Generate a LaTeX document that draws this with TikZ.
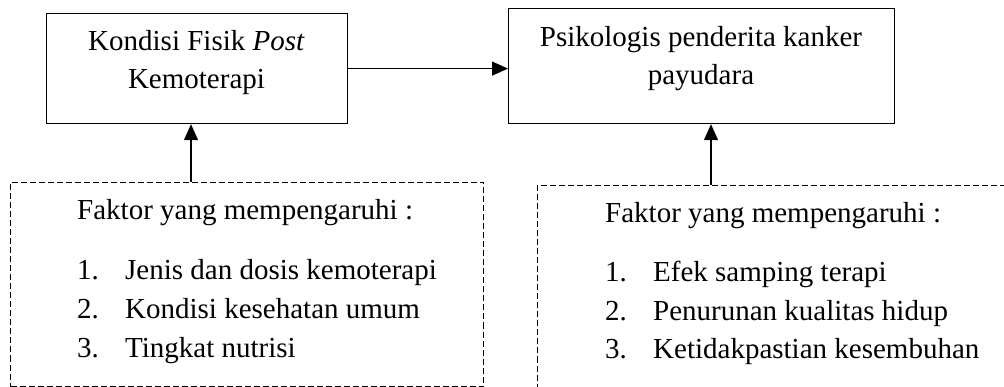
\documentclass[tikz,border=0pt]{standalone}
\usepackage{fontspec}
\setmainfont{Liberation Serif}
\usetikzlibrary{arrows.meta}
\begin{document}
\begin{tikzpicture}[x=1pt,y=-1pt,
  solidbox/.style={draw=black, line width=1.2pt, inner sep=0pt, anchor=north west},
  dashbox/.style={draw=black, line width=1pt, dash pattern=on 6pt off 3pt, inner sep=0pt, anchor=north west},
  arr/.style={line width=1.2pt, -{Triangle[length=16pt,width=14pt]}},
  txt/.style={inner sep=0pt, font=\fontsize{29}{38}\selectfont},
  lft/.style={txt, anchor=base west},
  ctr/.style={txt, anchor=base}]
\useasboundingbox (0,0) rectangle (1004,387);
\clip (0,0) rectangle (1004,387);
% main boxes
\node[solidbox, minimum width=301pt, minimum height=110pt] (b1) at (46,13) {};
\node[solidbox, minimum width=386pt, minimum height=115pt] (b2) at (508,8) {};
\node[ctr] (t11) at (196.5,51) {Kondisi Fisik \textit{Post}};
\node[ctr] (t12) at (196.5,89) {Kemoterapi};
\node[ctr] (t21) at (701,47) {Psikologis penderita kanker};
\node[ctr] (t22) at (701,85) {payudara};
% dashed factor boxes
\node[dashbox, minimum width=473pt, minimum height=204pt] (f1) at (10,182) {};
\node[dashbox, minimum width=500pt, minimum height=260pt] (f2) at (537,185) {};
% texts in left factor box
\node[lft] (h1) at (77,220) {Faktor yang mempengaruhi :};
\node[lft] (n11) at (77,280) {1.};
\node[lft] (i11) at (125,280) {Jenis dan dosis kemoterapi};
\node[lft] (n12) at (77,318.5) {2.};
\node[lft] (i12) at (125,318.5) {Kondisi kesehatan umum};
\node[lft] (n13) at (77,357) {3.};
\node[lft] (i13) at (125,357) {Tingkat nutrisi};
% texts in right factor box
\node[lft] (h2) at (605,223) {Faktor yang mempengaruhi :};
\node[lft] (n21) at (605,282) {1.};
\node[lft] (i21) at (653,282) {Efek samping terapi};
\node[lft] (n22) at (605,320) {2.};
\node[lft] (i22) at (653,320) {Penurunan kualitas hidup};
\node[lft] (n23) at (605,358) {3.};
\node[lft] (i23) at (653,358) {Ketidakpastian kesembuhan};
% connectors
\coordinate (a1x) at (191,0);
\coordinate (a2x) at (711,0);
\draw[arr] (b1.east) -- (b1.east -| b2.west);
\draw[arr] (a1x |- f1.north) -- (a1x |- b1.south);
\draw[arr] (a2x |- f2.north) -- (a2x |- b2.south);
\end{tikzpicture}
\end{document}
